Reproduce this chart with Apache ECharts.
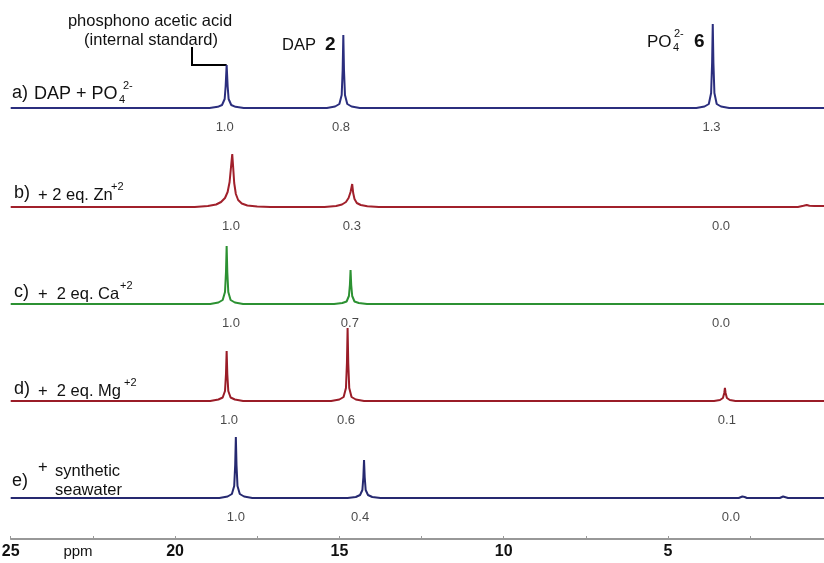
<!DOCTYPE html>
<html>
<head>
<meta charset="utf-8">
<script src="https://cdn.jsdelivr.net/npm/echarts@6/dist/echarts.min.js"></script>
<style>
  html, body { margin: 0; padding: 0; background: #fff; }
  #chart { width: 824px; height: 563px; }
</style>
</head>
<body>
<div id="chart"></div>
<script>
// 31P spectra, [ppm, intensity]
const specA = [[25, 0], [18.95, 0], [18.70, 1.2], [18.57, 3], [18.49, 9], [18.46, 22], [18.43, 43], [18.40, 22], [18.37, 9], [18.29, 3], [18.16, 1.2], [17.91, 0],
  [15.38, 0], [15.13, 1.5], [15.0, 4], [14.93, 13], [14.90, 38], [14.88, 73], [14.86, 38], [14.83, 13], [14.76, 4], [14.63, 1.5], [14.38, 0],
  [4.14, 0], [3.89, 1.5], [3.76, 4], [3.69, 15], [3.66, 45], [3.64, 84], [3.62, 45], [3.59, 15], [3.52, 4], [3.39, 1.5], [3.14, 0], [0, 0]]
const specB = [[25, 0], [19.4, 0], [19.0, 1], [18.75, 2.5], [18.6, 5], [18.48, 9], [18.40, 15], [18.34, 25], [18.30, 39], [18.26, 53], [18.23, 39], [18.20, 24], [18.15, 13], [18.08, 7], [17.97, 3.5], [17.8, 1.5], [17.5, 0.5], [17.1, 0],
  [15.45, 0], [15.1, 1], [14.92, 2.5], [14.8, 5], [14.72, 9], [14.66, 15], [14.61, 23], [14.58, 14], [14.54, 8], [14.47, 4], [14.35, 2], [14.15, 0.8], [13.8, 0],
  [1.05, 0], [0.88, 1.2], [0.78, 2], [0.70, 1.2], [0.55, 1], [0, 1]]
const specC = [[25, 0], [18.93, 0], [18.68, 1.5], [18.55, 4], [18.48, 12], [18.45, 32], [18.43, 58], [18.41, 32], [18.38, 12], [18.31, 4], [18.18, 1.5], [17.93, 0],
  [15.16, 0], [14.91, 1], [14.78, 2.5], [14.71, 8], [14.68, 19], [14.66, 34], [14.64, 19], [14.61, 8], [14.54, 2.5], [14.41, 1], [14.16, 0], [0, 0]]
const specD = [[25, 0], [18.93, 0], [18.68, 1.5], [18.55, 3.5], [18.48, 10], [18.45, 27], [18.43, 50], [18.41, 27], [18.38, 10], [18.31, 3.5], [18.18, 1.5], [17.93, 0],
  [15.25, 0], [15.0, 1.5], [14.87, 4], [14.80, 13], [14.77, 38], [14.75, 73], [14.73, 38], [14.70, 13], [14.63, 4], [14.50, 1.5], [14.25, 0],
  [3.6, 0], [3.42, 1], [3.33, 3], [3.29, 8], [3.27, 13], [3.25, 8], [3.21, 3], [3.12, 1], [2.95, 0], [0, 0]]
const specE = [[25, 0], [18.65, 0], [18.40, 1.5], [18.27, 4], [18.20, 12], [18.17, 33], [18.15, 61], [18.13, 33], [18.10, 12], [18.03, 4], [17.90, 1.5], [17.65, 0],
  [14.75, 0], [14.50, 1], [14.37, 3], [14.30, 8], [14.27, 21], [14.25, 38], [14.23, 21], [14.20, 8], [14.13, 3], [14.0, 1], [13.75, 0],
  [2.85, 0], [2.74, 1.5], [2.71, 2.5], [2.67, 1], [2.6, 0], [1.6, 0], [1.5, 1.5], [1.45, 1], [1.35, 0], [0, 0]]

// integrals written under the peaks
const intPpm = [[18.49, 14.95, 3.68], [18.30, 14.62, 3.39], [18.30, 14.68, 3.39], [18.36, 14.80, 3.21], [18.15, 14.37, 3.09]]
const intVal = [['1.0', '0.8', '1.3'], ['1.0', '0.3', '0.0'], ['1.0', '0.7', '0.0'], ['1.0', '0.6', '0.1'], ['1.0', '0.4', '0.0']]

const ppmMin = 0
const ppmMax = 25
const ppmStep = 5

const specs = [specA, specB, specC, specD, specE]
const colors = ['#2b2e7e', '#a1202b', '#2c9132', '#9a1c27', '#262970']
const baselines = [108, 207, 304, 401, 498]
const font = '"Liberation Sans", Arial, sans-serif'

let chart = echarts.init(document.getElementById('chart'))

let grids = []
let xAxes = []
let yAxes = []
let series = []
specs.forEach((spec, i) => {
  grids.push({ left: 10.7, width: 821.7, top: baselines[i] - 90, height: 120, outerBoundsMode: 'none', containLabel: false })
  let last = i === specs.length - 1
  xAxes.push({
    gridIndex: i,
    type: 'value',
    min: ppmMin,
    max: ppmMax,
    interval: ppmStep,
    inverse: true,
    show: last,
    position: 'bottom',
    offset: 11,
    axisLine: { show: true, onZero: false, lineStyle: { color: '#777', width: 1.5 } },
    axisTick: { show: true, length: 3, inside: true, lineStyle: { color: '#999' } },
    minorTick: { show: true, splitNumber: 2, length: 3, lineStyle: { color: '#999' } },
    splitLine: { show: false },
    axisLabel: {
      margin: 5,
      fontFamily: '"Liberation Sans Narrow", "Liberation Sans", Arial',
      fontWeight: 'bold',
      fontSize: 16,
      color: '#111'
    }
  })
  yAxes.push({ gridIndex: i, type: 'value', min: -30, max: 90, show: false })
  series.push({
    type: 'line',
    xAxisIndex: i,
    yAxisIndex: i,
    data: spec,
    showSymbol: false,
    silent: true,
    lineStyle: { color: colors[i], width: 2 },
    z: 3
  })
  series.push({
    type: 'scatter',
    xAxisIndex: i,
    yAxisIndex: i,
    symbolSize: 0,
    silent: true,
    data: intPpm[i].map((p, j) => [p, -19, intVal[i][j]]),
    label: {
      show: true,
      position: 'inside',
      formatter: (p) => p.value[2],
      fontFamily: font,
      fontSize: 13,
      color: '#1a1a1a'
    }
  })
})

const txt = (text, x, y, size, opts) => Object.assign({
  type: 'text',
  x: x,
  y: y,
  silent: true,
  style: {
    text: text,
    fill: '#111',
    font: (opts && opts.bold ? 'bold ' : '') + size + 'px ' + font,
    textAlign: (opts && opts.align) || 'left',
    textVerticalAlign: 'middle'
  }
})

let labels = [
  txt('phosphono acetic acid', 150, 21, 16.5, { align: 'center' }),
  txt('(internal standard)', 151, 40, 16.5, { align: 'center' }),
  txt('DAP', 282, 45, 16.5),
  txt('2', 325, 45, 19, { bold: true }),
  txt('PO', 647, 42, 17),
  txt('4', 673, 48, 11),
  txt('2-', 674, 34, 11),
  txt('6', 694, 42, 19, { bold: true }),
  // trace labels
  txt('a)', 12, 93, 18),
  txt('DAP + PO', 34, 94, 18),
  txt('4', 119, 100, 11),
  txt('2-', 123, 86, 11),
  txt('b)', 14, 193, 18),
  txt('+ 2 eq. Zn', 38, 195, 16.5),
  txt('+2', 111, 187, 11),
  txt('c)', 14, 292, 18),
  txt('+  2 eq. Ca', 38, 294, 16.5),
  txt('+2', 120, 286, 11),
  txt('d)', 14, 389, 18),
  txt('+  2 eq. Mg', 38, 391, 16.5),
  txt('+2', 124, 383, 11),
  txt('e)', 12, 481, 18),
  txt('+', 38, 467, 16.5),
  txt('synthetic', 55, 471, 16.5),
  txt('seawater', 55, 490, 16.5),
  txt('ppm', 78, 552, 15, { align: 'center' })
]

chart.setOption({
  animation: false,
  backgroundColor: '#fff',
  grid: grids,
  xAxis: xAxes,
  yAxis: yAxes,
  series: series,
  graphic: labels
})

// leader from the standard's label down to its peak in trace a
let peakTop = chart.convertToPixel({ gridIndex: 0 }, [18.43, 43])
chart.setOption({
  graphic: labels.concat([{
    type: 'polyline',
    silent: true,
    shape: { points: [[192, 47], [192, peakTop[1]], [peakTop[0], peakTop[1]]] },
    style: { stroke: '#000', lineWidth: 2, fill: null }
  }])
})
</script>
</body>
</html>
